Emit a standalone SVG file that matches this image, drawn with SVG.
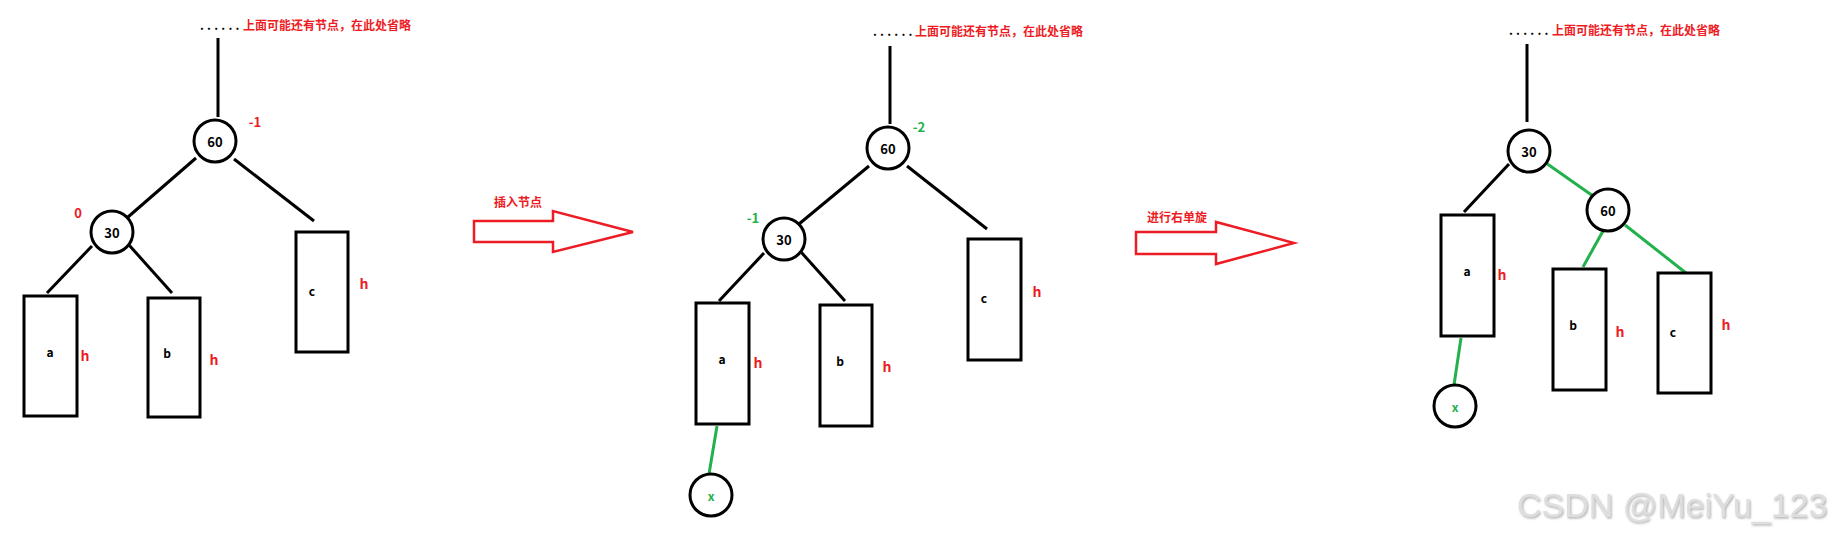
<svg xmlns="http://www.w3.org/2000/svg" width="1831" height="537" viewBox="0 0 1831 537">
<defs>
<style>
.ln{stroke:#000;stroke-width:3;fill:none;stroke-linecap:butt}
.gl{stroke:#22B14C;stroke-width:3;fill:none}
.nd{fill:#fff;stroke:#000;stroke-width:3}
.t{font-family:"Noto Sans CJK SC","Noto Sans",sans-serif;font-weight:bold;text-anchor:middle;dominant-baseline:central}
.lbl{font-size:13px;fill:#000}
.sub{font-size:12px;fill:#000}
.red{fill:#ED1C24}
.grn{fill:#22B14C}
.h{font-size:14px;fill:#ED1C24}
.bf{font-size:13px}
.top{font-family:"Noto Sans CJK SC","Noto Sans",sans-serif;font-weight:bold;font-size:12px}
.dots{fill:#000;letter-spacing:3.2px}
.arr{fill:#fff;stroke:#ED1C24;stroke-width:2.5}
</style>
<filter id="sh" x="-5%" y="-20%" width="110%" height="140%">
<feDropShadow dx="1" dy="1.5" stdDeviation="0.8" flood-color="#999" flood-opacity="0.8"/>
</filter>
</defs>

<g id="connectors">
<line class="ln" x1="218" y1="38" x2="218" y2="117"/>
<line class="ln" x1="196" y1="158" x2="128" y2="217"/>
<line class="ln" x1="234" y1="159" x2="314" y2="221"/>
<line class="ln" x1="92" y1="246" x2="47" y2="293"/>
<line class="ln" x1="129" y1="245" x2="172" y2="293"/>

<line class="ln" x1="890" y1="46" x2="890" y2="124"/>
<line class="ln" x1="869" y1="166" x2="799" y2="224"/>
<line class="ln" x1="907" y1="166" x2="987" y2="229"/>
<line class="ln" x1="764" y1="253" x2="719" y2="301"/>
<line class="ln" x1="801" y1="252" x2="845" y2="301"/>
<line class="gl" x1="717" y1="426" x2="709" y2="474"/>

<line class="ln" x1="1527" y1="44" x2="1527" y2="122"/>
<line class="ln" x1="1509" y1="164" x2="1464" y2="212"/>
<line class="gl" x1="1546" y1="163" x2="1593" y2="196"/>
<line class="gl" x1="1603" y1="231" x2="1583" y2="267"/>
<line class="gl" x1="1625" y1="225" x2="1686" y2="273"/>
<line class="gl" x1="1461" y1="338" x2="1454" y2="385"/>
</g>

<g id="p1-top"><text class="top" x="200" y="30"><tspan class="dots">......</tspan><tspan class="red" x="243">上面可能还有节点，在此处省略</tspan></text></g>
<g id="p1-n60"><circle class="nd" cx="215" cy="141" r="21"/><text class="t lbl" x="215" y="141">60</text><text class="t bf red" x="255" y="121">-1</text></g>
<g id="p1-n30"><circle class="nd" cx="112" cy="232" r="21"/><text class="t lbl" x="112" y="232">30</text><text class="t bf red" x="78" y="212">0</text></g>
<g id="p1-a"><rect class="nd" x="24" y="296" width="53" height="120"/><text class="t sub" x="50" y="351">a</text><text class="t h" x="85" y="355">h</text></g>
<g id="p1-b"><rect class="nd" x="148" y="298" width="52" height="119"/><text class="t sub" x="167" y="352">b</text><text class="t h" x="214" y="359">h</text></g>
<g id="p1-c"><rect class="nd" x="296" y="232" width="52" height="120"/><text class="t sub" x="312" y="290">c</text><text class="t h" x="364" y="283">h</text></g>

<g id="arrow1"><polygon class="arr" points="474,221 553,221 553,211 633,232 553,252 553,242 474,242"/><text class="t sub red" x="518" y="201">插入节点</text></g>

<g id="p2-top"><text class="top" x="873" y="36"><tspan class="dots">......</tspan><tspan class="red" x="915">上面可能还有节点，在此处省略</tspan></text></g>
<g id="p2-n60"><circle class="nd" cx="888" cy="148" r="21"/><text class="t lbl" x="888" y="148">60</text><text class="t bf grn" x="919" y="126">-2</text></g>
<g id="p2-n30"><circle class="nd" cx="784" cy="239" r="21"/><text class="t lbl" x="784" y="239">30</text><text class="t bf grn" x="753" y="217">-1</text></g>
<g id="p2-a"><rect class="nd" x="696" y="303" width="53" height="121"/><text class="t sub" x="722" y="358">a</text><text class="t h" x="758" y="362">h</text></g>
<g id="p2-b"><rect class="nd" x="820" y="305" width="52" height="121"/><text class="t sub" x="840" y="360">b</text><text class="t h" x="887" y="366">h</text></g>
<g id="p2-c"><rect class="nd" x="968" y="239" width="53" height="121"/><text class="t sub" x="984" y="297">c</text><text class="t h" x="1037" y="291">h</text></g>
<g id="p2-x"><circle class="nd" cx="711" cy="495" r="21"/><text class="t sub grn" x="711" y="495">x</text></g>

<g id="arrow2"><polygon class="arr" points="1136,232 1216,232 1216,222 1294,243 1216,264 1216,254 1136,254"/><text class="t sub red" x="1177" y="216">进行右单旋</text></g>

<g id="p3-top"><text class="top" x="1509" y="35"><tspan class="dots">......</tspan><tspan class="red" x="1552">上面可能还有节点，在此处省略</tspan></text></g>
<g id="p3-n30"><circle class="nd" cx="1529" cy="151" r="21"/><text class="t lbl" x="1529" y="151">30</text></g>
<g id="p3-n60"><circle class="nd" cx="1608" cy="210" r="21"/><text class="t lbl" x="1608" y="210">60</text></g>
<g id="p3-a"><rect class="nd" x="1441" y="215" width="53" height="121"/><text class="t sub" x="1467" y="270">a</text><text class="t h" x="1502" y="274">h</text></g>
<g id="p3-b"><rect class="nd" x="1553" y="269" width="53" height="121"/><text class="t sub" x="1573" y="324">b</text><text class="t h" x="1620" y="331">h</text></g>
<g id="p3-c"><rect class="nd" x="1658" y="273" width="53" height="120"/><text class="t sub" x="1673" y="331">c</text><text class="t h" x="1726" y="324">h</text></g>
<g id="p3-x"><circle class="nd" cx="1455" cy="406" r="21"/><text class="t sub grn" x="1455" y="406">x</text></g>

<g id="watermark"><text x="1517" y="517" font-family="Liberation Sans, Arial, sans-serif" font-size="34" fill="#dedede" filter="url(#sh)">CSDN @MeiYu_123</text></g>
</svg>
